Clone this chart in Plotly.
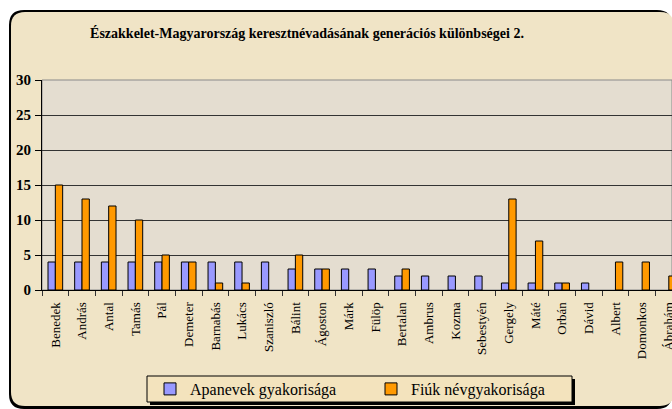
import plotly.graph_objects as go

categories = ["Benedek", "András", "Antal", "Tamás", "Pál", "Demeter", "Barnabás",
              "Lukács", "Szaniszló", "Bálint", "Ágoston", "Márk", "Fülöp", "Bertalan",
              "Ambrus", "Kozma", "Sebestyén", "Gergely", "Máté", "Orbán", "Dávid",
              "Albert", "Domonkos", "Ábrahám"]
apanevek = [4, 4, 4, 4, 4, 4, 4, 4, 4, 3, 3, 3, 3, 2, 2, 2, 2, 1, 1, 1, 1, 0, 0, 0]
fiuk = [15, 13, 12, 10, 5, 4, 1, 1, 0, 5, 3, 0, 0, 3, 0, 0, 0, 13, 7, 1, 0, 4, 4, 2]
series_names = ["Apanevek gyakorisága", "Fiúk névgyakorisága"]
y_ticks = [0, 5, 10, 15, 20, 25, 30]

W, H = 672, 409
L, R, T, B = 42, 672, 80, 290  # plot area in pixels


def px(x):
    return (x - L) / (R - L)


def py(y):
    return (B - y) / (B - T)


def rrect(x0, y0, x1, y1, r):
    return (f"M {px(x0 + r)},{py(y0)} L {px(x1 - r)},{py(y0)} Q {px(x1)},{py(y0)} {px(x1)},{py(y0 + r)} "
            f"L {px(x1)},{py(y1 - r)} Q {px(x1)},{py(y1)} {px(x1 - r)},{py(y1)} "
            f"L {px(x0 + r)},{py(y1)} Q {px(x0)},{py(y1)} {px(x0)},{py(y1 - r)} "
            f"L {px(x0)},{py(y0 + r)} Q {px(x0)},{py(y0)} {px(x0 + r)},{py(y0)} Z")


def nz(vals):
    return [v if v else None for v in vals]


fig = go.Figure()
fig.add_trace(go.Bar(x=categories, y=nz(apanevek), name=series_names[0],
                     marker=dict(color="#9999ff", line=dict(color="#000000", width=1))))
fig.add_trace(go.Bar(x=categories, y=nz(fiuk), name=series_names[1],
                     marker=dict(color="#ff9900", line=dict(color="#000000", width=1))))

shapes = []
# frame shadow + frame
shapes.append(dict(type="path", xref="paper", yref="paper", layer="below",
                   path=rrect(9, 10, 672, 409, 15), fillcolor="#000000",
                   line=dict(width=0)))
shapes.append(dict(type="path", xref="paper", yref="paper", layer="below",
                   path=rrect(11, 12, 674, 406, 14), fillcolor="#f0e4c6",
                   line=dict(width=0)))
# plot area background
shapes.append(dict(type="rect", xref="paper", yref="paper", layer="below",
                   x0=0, x1=1, y0=0, y1=1, fillcolor="#e4ddd0",
                   line=dict(color="#8a8a8a", width=1)))
# legend shadow + box
shapes.append(dict(type="rect", xref="paper", yref="paper", layer="below",
                   x0=px(150), x1=px(575), y0=py(405), y1=py(379),
                   fillcolor="#000000", line=dict(width=0)))
shapes.append(dict(type="rect", xref="paper", yref="paper", layer="below",
                   x0=px(147), x1=px(572), y0=py(402), y1=py(376),
                   fillcolor="#f3e3bd", line=dict(color="#000000", width=1)))

fig.update_layout(
    width=W, height=H,
    margin=dict(l=L, r=W - R, t=T, b=H - B, autoexpand=False),
    paper_bgcolor="#ffffff",
    plot_bgcolor="rgba(0,0,0,0)",
    barmode="group",
    bargap=0.45,
    bargroupgap=0,
    showlegend=True,
    title=dict(text="<b>Északkelet-Magyarország keresztnévadásának generációs különbségei 2.</b>",
               x=307 / W, xanchor="center", xref="container",
               y=1 - 33 / H, yanchor="middle", yref="container",
               font=dict(family="Liberation Serif", size=14, color="#000000")),
    legend=dict(orientation="h", x=px(150), xanchor="left", y=py(389), yanchor="middle",
                bgcolor="rgba(0,0,0,0)", borderwidth=0,
                font=dict(family="Liberation Serif", size=16, color="#000000"),
                entrywidth=176, entrywidthmode="pixels", itemwidth=30),
    shapes=shapes,
    font=dict(family="Liberation Serif", color="#000000"),
)
fig.update_xaxes(range=[-0.5, 23.12], tickangle=-90, ticks="outside", ticklen=5,
                 tickcolor="#333333", tickson="boundaries", showline=True,
                 linecolor="#000000", linewidth=1, showgrid=False,
                 ticklabelstandoff=6,
                 tickfont=dict(family="Liberation Serif", size=13, color="#000000"))
fig.update_yaxes(range=[0, 30], tickvals=y_ticks, ticks="outside", ticklen=6,
                 tickcolor="#000000", showline=True, linecolor="#000000", linewidth=1,
                 showgrid=True, gridcolor="#333333", gridwidth=1, zeroline=False,
                 tickfont=dict(family="Liberation Serif", size=15, color="#000000",
                               weight="bold"),
                 ticklabelstandoff=1)

fig.write_html("out.html", config={"displayModeBar": False},
               post_script="document.body.style.margin='0';")
